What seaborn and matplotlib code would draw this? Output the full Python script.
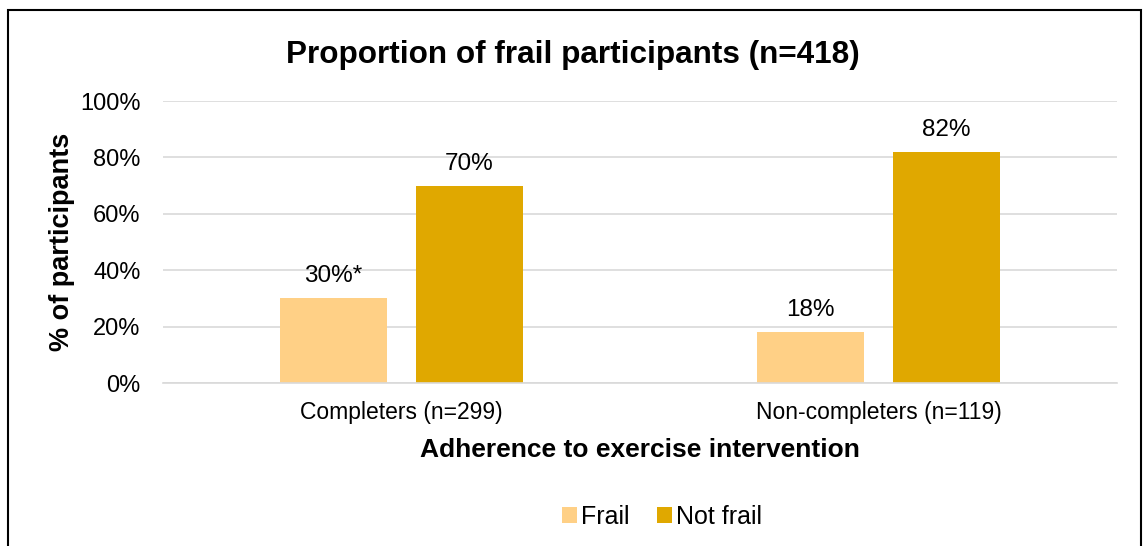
import matplotlib
matplotlib.use('Agg')
import matplotlib.pyplot as plt
import pandas as pd
import seaborn as sns
from matplotlib.patches import Rectangle

groups = ['Completers (n=299)', 'Non-completers (n=119)']
status = ['Frail', 'Not frail']
frail = [30, 18]
not_frail = [70, 82]
bar_labels = [['30%*', '18%'], ['70%', '82%']]
y_ticks = [0, 20, 40, 60, 80, 100]

df = pd.DataFrame({
    'group': groups * 2,
    'status': [status[0]] * 2 + [status[1]] * 2,
    'pct': frail + not_frail,
})

sns.set_theme(style='white')
plt.rcParams['font.family'] = ['Liberation Sans', 'DejaVu Sans']
plt.rcParams['text.color'] = 'black'
plt.rcParams['axes.labelcolor'] = 'black'
plt.rcParams['xtick.color'] = 'black'
plt.rcParams['ytick.color'] = 'black'

fig = plt.figure(figsize=(11.46, 5.46), dpi=100)
ax = fig.add_axes([0.1422, 0.2985, 0.8325, 0.5165])

palette = {'Frail': '#FFD086', 'Not frail': '#E0A800'}
sns.barplot(data=df, x='group', y='pct', hue='status', hue_order=status, order=groups,
            palette=palette, width=0.57, gap=0.213, saturation=1, linewidth=0, ax=ax, legend=True)

# value labels above bars
for container, labs in zip(ax.containers, bar_labels):
    ax.bar_label(container, labels=labs, padding=8, fontsize=17.5, color='black')

ax.set_ylim(0, 100)
ax.set_xlim(-0.5, 1.5)
ax.set_yticks(y_ticks)
ax.set_yticklabels([f'{t}%' for t in y_ticks], fontsize=17)
ax.tick_params(axis='x', labelsize=16.5, length=0, pad=13)
ax.tick_params(axis='y', length=0, pad=16)
ax.yaxis.grid(True, color='#D9D9D9', linewidth=1.2)
ax.set_axisbelow(True)
for s in ['top', 'right', 'left']:
    ax.spines[s].set_visible(False)
ax.spines['bottom'].set_color('#D9D9D9')
ax.spines['bottom'].set_linewidth(1.2)

ax.set_xlabel('Adherence to exercise intervention', fontsize=19, fontweight='bold', labelpad=10)
ax.set_ylabel('% of participants', fontsize=19.5, fontweight='bold', labelpad=4)
fig.suptitle('Proportion of frail participants (n=418)', x=0.5, y=0.926,
             fontsize=22.7, fontweight='bold')

handles, labels = ax.get_legend_handles_labels()
ax.legend(handles, labels, loc='center', bbox_to_anchor=(662 / 1146, 1 - 517 / 546),
          bbox_transform=fig.transFigure, ncol=2, frameon=False, fontsize=18,
          handlelength=0.6, handleheight=0.6, handletextpad=0.15, columnspacing=1.1)

# outer chart border
fig.patches.append(Rectangle((8 / 1146, -0.05), 1133 / 1146, 1.05 - 10 / 546, transform=fig.transFigure,
                             fill=False, edgecolor='black', linewidth=1.5))

fig.savefig('out.png', dpi=100)
